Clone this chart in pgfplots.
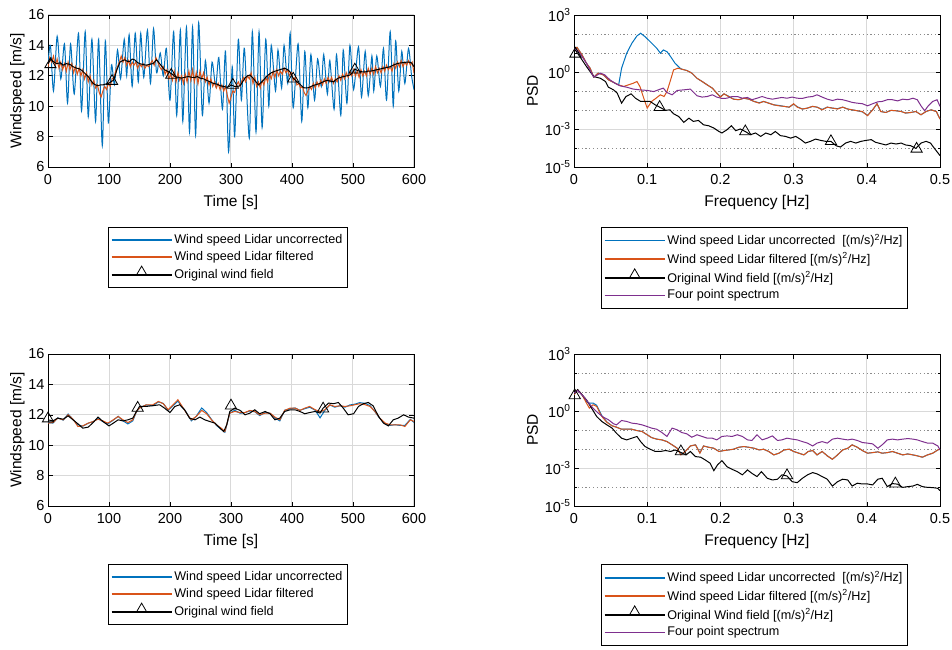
\documentclass[border=0pt]{standalone}
\usepackage{fontspec}
\setmainfont{Liberation Sans}
\usepackage{pgfplots}
\pgfplotsset{compat=1.18}
\usepackage{pgfplotstable}

\definecolor{mblue}{rgb}{0,0.447,0.741}
\definecolor{morange}{rgb}{0.85,0.325,0.098}
\definecolor{mpurple}{rgb}{0.494,0.184,0.556}

\pgfplotsset{
 mybase/.style={
  scale only axis, width=366pt, height=152pt,
  axis line style={line width=0.9pt, black},
  tick align=inside, tick pos=both,
  major tick length=4.5pt, minor tick length=2.5pt,
  every tick/.style={black, line width=0.6pt},
  major grid style={draw=black!15, line width=1pt},
  tick label style={font=\fontsize{14.5}{16}\selectfont},
  xticklabel style={yshift=-4pt},
  label style={font=\fontsize{15.5}{18}\selectfont},
  xlabel style={yshift=-4pt},
  /pgf/number format/assume math mode=true,
  every axis plot/.append style={line width=1pt},
  legend style={draw=black, line width=0.8pt, fill=white,
    font=\fontsize{12.6}{14.5}\selectfont,
    inner xsep=2.5pt, inner ysep=5pt, row sep=1.5pt,
    nodes={inner sep=2pt, text depth=0.22em},
    cells={anchor=west}, anchor=north west},
 },
 myts/.style={mybase, grid=major, xmin=0, xmax=600, ymin=6, ymax=16,
  xtick={0,100,200,300,400,500,600}, ytick={6,8,10,12,14,16},
  ylabel shift=-3pt,
  xlabel={Time [s]}, ylabel={Windspeed [m/s]}},
 mypsd/.style={mybase, xmin=0, xmax=0.5, ymin=1e-5, ymax=1e3,
  xtick={0,0.1,0.2,0.3,0.4,0.5},
  xticklabels={0,0.1,0.2,0.3,0.4,0.5},
  ytick={1e-5,1e-3,1,1e3},
  yticklabels={10\textsuperscript{-5},10\textsuperscript{-3},10\textsuperscript{0},10\textsuperscript{3}},
  minor ytick={1e-4,1e-2,1e-1,1e1,1e2},
  grid=both,
  minor grid style={draw=black!45, dash pattern=on 1.2pt off 2.6pt, line width=0.8pt},
  xlabel={Frequency [Hz]}, ylabel={PSD}},
 bl/.style={mblue, legend image code/.code={\draw[mblue, line width=1.4pt] (0pt,0pt) -- (60pt,0pt);}},
 or/.style={morange, legend image code/.code={\draw[morange, line width=1.4pt] (0pt,0pt) -- (60pt,0pt);}},
 pu/.style={mpurple, legend image code/.code={\draw[mpurple, line width=1.4pt] (0pt,0pt) -- (60pt,0pt);}},
 blk/.style={black, line width=1pt,
  legend image code/.code={\draw[black,line width=1.3pt] (0pt,0pt) -- (60pt,0pt);
    \draw[black,line width=0.8pt] plot[only marks, mark=triangle, mark size=6pt] coordinates {(30pt,3pt)};}},
 tri/.style={only marks, mark=triangle, mark size=6.5pt, black, line width=0.8pt, forget plot},
}

% ---------------- top-left time series ----------------
\pgfplotstableread{
t v
0 12.8
4 14.0
9 11.0
15 14.6
21 11.8
27 14.1
32 10.2
37 14.1
43 10.8
50 14.8
55 9.7
61 14.9
66 9.3
72 14.4
78 9.0
83 14.4
89 7.4
94 14.3
99 8.9
104 12.7
109 11.4
114 13.7
119 11.8
125 14.4
129 12.0
133 14.7
138 11.3
143 14.8
148 11.6
152 14.8
157 11.9
163 15.0
168 11.5
173 15.1
178 12.2
184 13.5
189 12.0
194 13.8
200 10.4
206 14.9
211 9.4
217 15.0
221 9.0
227 15.2
232 8.3
237 15.2
242 8.1
247 15.5
253 9.4
258 13.0
264 10.2
269 12.9
275 11.3
280 13.2
286 9.8
291 13.6
296 7.0
302 12.6
306 8.0
312 14.4
317 10.4
322 13.8
330 7.9
335 14.9
341 8.3
346 14.9
351 8.6
357 14.4
362 10.0
366 14.0
373 11.0
377 13.7
383 11.2
387 14.0
393 11.5
397 14.8
402 9.9
410 14.1
416 9.0
421 13.6
426 9.9
431 13.4
437 10.4
442 13.1
448 11.3
452 13.4
458 10.8
462 13.0
469 9.8
473 13.4
480 9.4
484 13.7
490 10.2
495 14.0
501 11.1
509 13.9
514 10.6
520 13.6
525 10.7
531 13.3
534 11.0
539 13.3
545 11.3
550 13.8
555 10.4
561 14.9
566 10.0
570 14.3
575 11.0
580 13.6
585 11.5
591 13.8
596 12.0
600 11.1
}\tlblue

\pgfplotstableread{
t v
0 12.6
3 13.2
6 12.9
9 13.3
12 12.7
15 13.1
18 12.5
21 12.9
24 12.4
27 12.8
30 12.3
33 12.9
36 12.4
39 12.8
42 12.2
45 12.6
48 12.1
51 12.5
54 12.0
57 12.4
60 11.8
63 12.2
66 11.6
69 12.0
72 11.4
75 11.7
78 11.2
81 11.4
84 10.9
87 10.6
90 11.0
93 11.3
96 11.1
99 11.5
102 11.3
105 11.8
108 11.9
111 12.3
114 12.6
117 12.9
120 13.3
123 12.9
126 13.2
129 12.7
132 13.0
135 12.6
138 12.9
141 12.7
144 12.9
147 12.5
150 12.8
153 12.6
156 12.8
159 12.5
162 12.7
165 12.6
168 12.8
171 13.0
174 12.7
177 13.2
180 12.9
183 12.6
186 12.4
189 12.6
192 12.1
195 12.4
198 11.8
201 12.1
204 11.7
207 12.3
210 11.6
213 12.2
216 11.7
219 12.0
222 11.5
225 12.1
228 11.6
231 12.3
234 11.7
237 12.4
240 11.6
243 12.2
246 11.5
249 12.3
252 11.8
255 12.2
258 11.6
261 11.9
264 11.4
267 11.8
270 11.3
273 11.6
276 11.2
279 11.5
282 11.1
285 11.4
288 11.0
291 11.3
294 10.7
297 10.2
300 10.6
303 11.0
306 10.9
309 11.4
312 11.6
315 11.3
318 11.7
321 11.9
324 11.6
327 12.0
330 11.8
333 12.2
336 11.5
339 11.9
342 11.3
345 11.6
348 11.2
351 11.7
354 11.4
357 11.9
360 11.6
363 12.1
366 11.8
369 12.3
372 11.9
375 12.4
378 12.0
381 12.3
384 12.1
387 12.5
390 12.2
393 12.4
396 12.0
399 12.2
402 11.7
405 11.9
408 11.4
411 11.5
414 11.2
417 11.3
420 10.9
423 10.7
426 11.0
429 11.3
432 11.1
435 11.5
438 11.2
441 11.6
444 11.3
447 11.7
450 11.4
453 11.8
456 11.5
459 11.9
462 11.6
465 11.9
468 11.5
471 11.8
474 11.6
477 12.0
480 11.7
483 12.1
486 11.8
489 12.2
492 11.9
495 12.3
498 12.0
501 12.4
504 12.0
507 12.3
510 11.9
513 12.4
516 12.0
519 12.3
522 12.0
525 12.5
528 12.1
531 12.5
534 12.1
537 12.6
540 12.2
543 12.5
546 12.2
549 12.6
552 12.3
555 12.7
558 12.4
561 12.6
564 12.3
567 12.8
570 12.5
573 12.9
576 12.6
579 13.0
582 12.6
585 12.9
588 12.7
591 13.0
594 12.7
597 12.9
600 12.2
}\tlorange

\pgfplotstableread{
t v
0 12.8
5 13.1
10 12.9
14 12.8
20 12.85
25 12.7
30 12.8
36 12.75
41 12.6
47 12.5
52 12.45
57 12.3
62 12.1
66 11.95
70 11.7
74 11.5
78 11.4
82 11.35
86 11.4
90 11.4
94 11.45
99 11.5
103 11.6
107 11.7
110 12.0
113 12.4
118 12.9
122 13.0
126 13.05
130 12.95
134 12.95
138 13.1
142 13.05
146 12.9
150 12.8
155 12.75
161 12.7
166 12.75
172 12.8
178 13.05
183 12.8
187 12.6
191 12.4
196 12.3
200 12.2
204 12.1
208 11.95
213 11.9
219 11.85
224 11.9
230 11.95
236 11.9
241 11.9
245 11.95
249 11.85
255 11.8
260 11.7
266 11.6
271 11.5
277 11.45
282 11.35
288 11.3
293 11.25
297 11.3
300 11.4
306 11.3
311 11.3
315 11.35
319 11.6
323 11.85
327 12.0
331 12.05
335 11.9
339 11.7
345 11.4
349 11.55
353 11.7
357 11.9
361 12.05
366 12.2
372 12.3
376 12.35
380 12.4
384 12.45
388 12.5
393 12.4
397 12.25
402 11.85
407 11.65
413 11.45
418 11.25
421 11.2
425 11.2
429 11.25
434 11.35
438 11.4
442 11.45
446 11.5
451 11.6
457 11.7
463 11.65
468 11.6
472 11.75
476 11.85
480 11.9
484 11.95
490 12.0
495 12.05
499 12.2
503 12.45
507 12.35
511 12.3
516 12.25
520 12.25
524 12.3
528 12.3
534 12.35
539 12.4
545 12.45
550 12.5
556 12.55
561 12.6
566 12.7
572 12.8
578 12.85
583 12.87
588 12.9
592 12.9
596 12.85
600 12.6
}\tlblack

% ---------------- bottom-left time series ----------------
\pgfplotstableread{
t v
0 11.5
8 11.45
16 11.8
25 11.65
33 12.05
41 11.7
49 11.35
57 11.25
66 11.45
74 11.55
82 11.75
90 11.55
98 11.4
107 11.65
115 11.9
123 11.6
131 11.4
139 11.6
145 12.2
150 12.45
161 12.65
172 12.6
181 12.85
189 12.75
197 12.3
205 12.6
213 12.9
220 12.5
227 12.15
235 11.6
243 11.9
252 12.45
260 12.15
268 11.7
276 11.3
284 11.05
290 10.85
298 12.1
306 12.3
315 12.1
323 12.15
331 12.25
339 12.2
347 11.95
356 12.15
364 12.1
372 11.8
380 11.6
388 12.3
397 12.4
405 12.45
413 12.3
421 12.4
429 12.5
438 12.3
446 11.8
454 12.3
462 12.65
470 12.5
479 12.6
487 12.5
495 12.65
503 12.7
511 12.8
520 12.75
528 12.6
536 12.2
544 11.75
553 11.4
561 11.3
569 11.35
577 11.3
585 11.3
594 11.7
600 11.5
}\blblue

\pgfplotstableread{
t v
0 11.45
8 11.49
16 11.78
25 11.67
33 12.0
41 11.71
49 11.23
57 11.27
66 11.45
74 11.56
82 11.71
90 11.6
98 11.45
107 11.67
115 11.89
123 11.67
131 11.49
139 11.67
145 12.22
150 12.44
161 12.66
172 12.66
181 12.88
189 12.73
197 12.33
205 12.66
213 12.99
220 12.55
227 12.11
235 11.67
243 11.89
252 12.29
260 12.07
268 11.67
276 11.34
284 11.12
290 10.9
298 12.11
306 12.22
315 12.15
323 12.15
331 12.29
339 12.22
347 12.0
356 12.11
364 12.11
372 11.85
380 11.67
388 12.29
397 12.44
405 12.44
413 12.29
421 12.44
429 12.55
438 12.33
446 12.22
454 12.33
462 12.66
470 12.55
479 12.59
487 12.55
495 12.59
503 12.66
511 12.73
520 12.66
528 12.55
536 12.22
544 11.78
553 11.45
561 11.34
569 11.34
577 11.34
585 11.23
594 11.67
600 11.56
}\blorange

\pgfplotstableread{
t v
0 11.67
8 11.6
16 11.78
25 11.71
33 11.93
41 11.67
49 11.41
57 11.12
66 11.19
74 11.49
82 11.85
90 11.56
100 11.27
107 11.45
115 11.67
123 11.6
131 11.67
139 11.78
145 12.22
150 12.55
161 12.55
172 12.6
183 12.66
191 12.44
200 12.15
208 12.55
216 12.66
224 12.33
232 11.78
241 11.67
249 11.85
257 11.67
265 11.56
274 11.45
282 11.12
288 10.9
293 11.34
298 12.22
306 12.44
315 12.29
323 12.0
331 12.11
339 12.33
347 12.07
356 12.22
364 12.07
372 11.67
380 11.78
388 12.22
397 12.33
405 12.33
413 12.22
421 12.07
429 12.15
438 12.22
446 12.11
451 12.44
460 12.77
468 12.73
476 12.81
484 12.44
492 12.0
501 12.07
509 12.55
517 12.73
525 12.81
533 12.59
542 11.89
550 11.45
558 11.27
566 11.67
574 11.78
583 12.0
591 11.85
600 11.78
}\blblack

% ---------------- top-right PSD (log10 values) ----------------
\pgfplotstableread{
f l
0.001 1.20
0.004 1.30
0.011 0.90
0.017 0.46
0.022 0.20
0.027 -0.27
0.033 -0.06
0.040 -0.15
0.047 -0.41
0.054 -0.55
0.061 -0.68
0.065 0.20
0.072 0.99
0.079 1.51
0.086 1.90
0.091 2.04
0.097 1.86
0.104 1.60
0.113 1.25
0.118 0.99
0.122 1.16
0.127 1.07
0.132 0.81
0.138 0.46
0.145 0.20
0.147 0.15
0.154 0.08
0.161 -0.06
0.168 -0.33
0.175 -0.50
0.182 -0.68
0.189 -0.85
0.195 -1.11
0.200 -1.30
0.205 -1.15
0.211 -1.27
0.218 -1.43
0.225 -1.46
0.232 -1.38
0.239 -1.43
0.246 -1.55
0.253 -1.62
0.259 -1.55
0.266 -1.64
0.273 -1.73
0.280 -1.76
0.287 -1.81
0.294 -1.85
0.300 -1.69
0.305 -1.83
0.312 -1.95
0.319 -1.90
0.326 -1.81
0.332 -1.85
0.339 -1.97
0.346 -1.85
0.353 -1.90
0.360 -1.93
0.367 -1.85
0.374 -1.95
0.380 -1.99
0.387 -2.04
0.394 -2.10
0.401 -2.28
0.408 -1.99
0.414 -1.67
0.419 -2.08
0.426 -2.13
0.433 -2.02
0.440 -2.04
0.447 -2.08
0.453 -2.16
0.460 -2.13
0.467 -2.08
0.474 -2.25
0.481 -2.08
0.488 -1.99
0.495 -2.08
0.500 -2.48
}\trblue

\pgfplotstableread{
f l
0.001 1.20
0.004 1.30
0.011 0.90
0.017 0.46
0.022 0.20
0.027 -0.27
0.033 -0.06
0.040 -0.15
0.047 -0.41
0.054 -0.55
0.061 -0.68
0.068 -0.76
0.074 -0.68
0.081 -0.59
0.086 -0.50
0.090 -0.76
0.096 -1.46
0.100 -1.90
0.106 -1.55
0.112 -1.38
0.118 -1.20
0.123 -1.29
0.127 -1.03
0.132 -0.41
0.136 0.11
0.142 0.20
0.147 0.15
0.154 0.08
0.161 -0.06
0.168 -0.33
0.175 -0.50
0.182 -0.68
0.189 -0.85
0.195 -1.11
0.200 -1.32
0.205 -1.15
0.211 -1.29
0.218 -1.43
0.225 -1.46
0.232 -1.38
0.239 -1.43
0.246 -1.55
0.253 -1.64
0.259 -1.55
0.266 -1.64
0.273 -1.73
0.280 -1.78
0.287 -1.81
0.294 -1.85
0.300 -1.67
0.305 -1.85
0.312 -1.95
0.319 -1.90
0.326 -1.81
0.332 -1.85
0.339 -1.99
0.346 -1.85
0.353 -1.90
0.360 -1.95
0.367 -1.85
0.374 -1.95
0.380 -1.99
0.387 -2.04
0.394 -2.08
0.401 -2.30
0.408 -1.99
0.414 -1.67
0.419 -2.08
0.426 -2.13
0.433 -2.02
0.440 -2.04
0.447 -2.08
0.453 -2.16
0.460 -2.13
0.467 -2.08
0.474 -2.25
0.481 -2.08
0.488 -1.99
0.495 -2.08
0.500 -2.48
}\trorange

\pgfplotstableread{
f l
0.001 1.20
0.008 0.81
0.017 0.29
0.027 -0.24
0.036 -0.33
0.043 -0.50
0.047 -0.80
0.054 -0.94
0.059 -1.11
0.065 -1.64
0.071 -1.29
0.078 -1.15
0.084 -1.38
0.091 -1.55
0.097 -1.55
0.104 -1.55
0.111 -1.73
0.117 -1.85
0.125 -2.02
0.131 -1.99
0.136 -2.20
0.143 -2.34
0.150 -2.65
0.157 -2.43
0.163 -2.60
0.170 -2.55
0.177 -2.78
0.184 -2.83
0.191 -2.95
0.198 -3.13
0.202 -3.21
0.209 -3.04
0.215 -2.83
0.221 -3.09
0.227 -3.00
0.234 -3.13
0.241 -3.30
0.248 -3.21
0.255 -3.39
0.262 -3.21
0.269 -3.30
0.275 -3.13
0.282 -3.35
0.289 -3.39
0.296 -3.48
0.303 -3.39
0.310 -3.56
0.316 -3.74
0.323 -3.65
0.330 -3.53
0.337 -3.60
0.344 -3.65
0.351 -3.65
0.358 -3.88
0.364 -3.95
0.371 -3.74
0.378 -3.65
0.385 -3.74
0.392 -3.65
0.399 -3.60
0.406 -3.56
0.412 -3.70
0.419 -3.77
0.426 -3.84
0.433 -3.74
0.440 -3.79
0.447 -3.74
0.453 -3.84
0.460 -3.88
0.467 -4.02
0.474 -3.74
0.481 -3.65
0.487 -3.74
0.492 -4.00
0.500 -4.40
}\trblack

\pgfplotstableread{
f l
0.001 1.25
0.008 0.99
0.017 0.46
0.027 -0.27
0.036 -0.06
0.042 -0.15
0.049 -0.41
0.056 -0.59
0.063 -0.73
0.072 -0.80
0.081 -0.90
0.090 -0.94
0.100 -0.97
0.109 -1.03
0.118 -0.90
0.122 -0.85
0.127 -1.08
0.134 -1.20
0.141 -0.97
0.150 -0.94
0.159 -0.90
0.168 -1.25
0.175 -1.32
0.182 -1.29
0.189 -1.20
0.195 -1.32
0.202 -1.39
0.209 -1.38
0.216 -1.29
0.223 -1.29
0.230 -1.38
0.237 -1.34
0.243 -1.46
0.250 -1.38
0.257 -1.29
0.264 -1.38
0.271 -1.43
0.278 -1.38
0.284 -1.34
0.291 -1.38
0.298 -1.32
0.305 -1.38
0.312 -1.39
0.319 -1.32
0.326 -1.29
0.332 -1.20
0.339 -1.32
0.346 -1.43
0.353 -1.50
0.360 -1.43
0.367 -1.46
0.374 -1.53
0.380 -1.60
0.387 -1.64
0.394 -1.67
0.401 -1.78
0.408 -1.67
0.415 -1.57
0.421 -1.55
0.428 -1.46
0.435 -1.46
0.442 -1.52
0.449 -1.43
0.456 -1.46
0.463 -1.38
0.469 -1.46
0.474 -1.78
0.479 -2.04
0.484 -1.78
0.490 -1.55
0.496 -1.46
0.500 -1.81
}\trpurple

% ---------------- bottom-right PSD (log10 values) ----------------
\pgfplotstableread{
f l
0.000 0.85
0.005 1.12
0.011 0.85
0.017 0.50
0.021 0.42
0.026 0.42
0.031 0.30
0.038 -0.25
0.045 -0.58
0.052 -0.78
0.058 -0.85
0.065 -0.96
0.072 -0.96
0.079 -0.96
0.086 -1.03
0.093 -1.08
0.100 -1.25
0.106 -1.40
0.113 -1.48
0.120 -1.52
0.127 -1.61
0.134 -1.78
0.141 -1.96
0.146 -2.28
0.152 -2.13
0.159 -1.84
0.166 -1.78
0.172 -2.20
0.177 -1.84
0.184 -1.91
0.191 -1.96
0.198 -2.13
0.205 -2.08
0.211 -2.05
0.218 -2.01
0.225 -1.91
0.232 -1.87
0.239 -1.91
0.246 -1.96
0.253 -2.05
0.259 -2.01
0.266 -2.13
0.273 -2.31
0.280 -2.22
0.287 -2.05
0.294 -2.01
0.300 -2.13
0.307 -2.22
0.314 -2.31
0.320 -2.13
0.326 -2.08
0.332 -2.31
0.339 -2.13
0.346 -2.36
0.353 -2.54
0.360 -2.31
0.367 -2.05
0.374 -1.96
0.380 -1.78
0.387 -1.91
0.394 -2.08
0.401 -2.22
0.408 -2.19
0.415 -2.15
0.421 -2.22
0.428 -2.19
0.435 -2.13
0.442 -2.22
0.449 -2.31
0.456 -2.26
0.463 -2.31
0.469 -2.36
0.476 -2.43
0.483 -2.31
0.490 -2.22
0.497 -2.05
0.500 -2.01
}\brblue

\pgfplotstableread{
f l
0.000 0.85
0.005 1.12
0.011 0.85
0.017 0.42
0.021 0.15
0.026 0.33
0.031 0.24
0.038 -0.29
0.045 -0.60
0.052 -0.78
0.058 -0.85
0.065 -0.96
0.072 -0.96
0.079 -0.96
0.086 -1.03
0.093 -1.08
0.100 -1.25
0.106 -1.40
0.113 -1.48
0.120 -1.52
0.127 -1.61
0.134 -1.78
0.141 -1.96
0.146 -2.31
0.152 -2.13
0.159 -1.84
0.166 -1.78
0.172 -2.22
0.177 -1.84
0.184 -1.91
0.191 -1.96
0.198 -2.13
0.205 -2.08
0.211 -2.05
0.218 -2.01
0.225 -1.91
0.232 -1.87
0.239 -1.91
0.246 -1.96
0.253 -2.05
0.259 -2.01
0.266 -2.13
0.273 -2.31
0.280 -2.22
0.287 -2.05
0.294 -2.01
0.300 -2.13
0.307 -2.22
0.314 -2.31
0.320 -2.13
0.326 -2.08
0.332 -2.31
0.339 -2.13
0.346 -2.36
0.353 -2.54
0.360 -2.31
0.367 -2.05
0.374 -1.96
0.380 -1.78
0.387 -1.91
0.394 -2.08
0.401 -2.22
0.408 -2.19
0.415 -2.15
0.421 -2.22
0.428 -2.19
0.435 -2.13
0.442 -2.22
0.449 -2.31
0.456 -2.26
0.463 -2.31
0.469 -2.36
0.476 -2.43
0.483 -2.31
0.490 -2.22
0.497 -2.05
0.500 -2.01
}\brorange

\pgfplotstableread{
f l
0.000 0.91
0.005 1.12
0.011 0.85
0.017 0.59
0.024 0.15
0.031 -0.29
0.038 -0.55
0.045 -0.73
0.052 -0.90
0.058 -1.17
0.065 -1.43
0.072 -1.52
0.079 -1.43
0.086 -1.34
0.091 -1.61
0.097 -1.87
0.104 -2.01
0.111 -2.13
0.118 -2.13
0.125 -2.08
0.132 -2.13
0.138 -2.05
0.146 -2.18
0.153 -2.31
0.159 -2.13
0.166 -2.40
0.173 -2.43
0.179 -2.57
0.186 -2.75
0.191 -3.14
0.196 -2.84
0.202 -2.61
0.209 -2.93
0.216 -3.07
0.223 -3.19
0.230 -3.36
0.237 -3.10
0.243 -3.28
0.250 -3.45
0.256 -3.19
0.264 -3.54
0.271 -3.63
0.278 -3.59
0.284 -3.36
0.291 -3.42
0.298 -3.72
0.305 -3.77
0.312 -3.54
0.319 -3.36
0.326 -3.24
0.332 -3.31
0.339 -3.45
0.346 -3.59
0.353 -3.95
0.360 -3.72
0.367 -3.59
0.374 -3.63
0.380 -3.95
0.387 -3.80
0.394 -3.84
0.401 -3.84
0.408 -3.89
0.415 -3.59
0.421 -3.54
0.428 -3.98
0.435 -3.82
0.442 -3.85
0.449 -4.02
0.456 -3.98
0.463 -3.95
0.469 -3.86
0.476 -3.98
0.483 -4.02
0.490 -4.03
0.497 -4.07
0.500 -4.19
}\brblack

\pgfplotstableread{
f l
0.000 0.94
0.005 1.08
0.013 0.77
0.020 0.42
0.026 0.15
0.033 -0.11
0.040 -0.32
0.047 -0.46
0.054 -0.67
0.058 -0.73
0.065 -0.50
0.072 -0.55
0.079 -0.64
0.086 -0.67
0.093 -0.73
0.100 -0.82
0.106 -0.90
0.113 -0.96
0.120 -1.13
0.127 -1.34
0.134 -0.90
0.141 -0.99
0.147 -1.13
0.154 -1.20
0.161 -1.38
0.168 -1.25
0.175 -1.34
0.182 -1.43
0.189 -1.43
0.195 -1.52
0.202 -1.34
0.209 -1.31
0.216 -1.34
0.223 -1.25
0.230 -1.34
0.237 -1.52
0.243 -1.55
0.250 -1.25
0.257 -1.52
0.264 -1.43
0.271 -1.31
0.278 -1.55
0.284 -1.52
0.291 -1.43
0.298 -1.48
0.305 -1.52
0.312 -1.61
0.319 -1.69
0.326 -1.84
0.332 -1.69
0.339 -1.61
0.346 -1.69
0.353 -1.48
0.360 -1.43
0.367 -1.48
0.374 -1.52
0.380 -1.48
0.387 -1.55
0.394 -1.66
0.401 -1.69
0.408 -1.73
0.415 -1.96
0.421 -1.78
0.428 -1.52
0.435 -1.48
0.442 -1.52
0.449 -1.48
0.456 -1.45
0.463 -1.48
0.469 -1.52
0.476 -1.61
0.483 -1.69
0.490 -1.69
0.497 -1.84
0.500 -2.05
}\brpurple

\begin{document}
\begin{tikzpicture}
\path[use as bounding box] (0,0) rectangle (952pt,649pt);

% ===== top-left =====
\begin{axis}[myts, at={(48pt,634pt)}, anchor=north west,
  legend style={at={(axis description cs:0.164,-0.395)}}]
\addplot[bl, smooth, tension=0.45] table[x=t,y=v] {\tlblue};
\addlegendentry{Wind speed Lidar uncorrected}
\addplot[or] table[x=t,y=v] {\tlorange};
\addlegendentry{Wind speed Lidar filtered}
\addplot[blk] table[x=t,y=v] {\tlblack};
\addlegendentry{Original wind field}
\addplot[tri] coordinates {(4,12.75) (105,11.65) (202,12.05) (303,11.4) (402,11.8) (503,12.4)};
\end{axis}

% ===== top-right =====
\begin{axis}[ymode=log, mypsd, at={(574pt,634pt)}, anchor=north west,
  legend style={at={(axis description cs:0.074,-0.395)}}]
\addplot[bl] table[x=f,y expr={10^(\thisrow{l})}] {\trblue};
\addlegendentry{Wind speed Lidar uncorrected\ \ [(m/s)\textsuperscript{2}/Hz]}
\addplot[or] table[x=f,y expr={10^(\thisrow{l})}] {\trorange};
\addlegendentry{Wind speed Lidar filtered [(m/s)\textsuperscript{2}/Hz]}
\addplot[blk] table[x=f,y expr={10^(\thisrow{l})}] {\trblack};
\addlegendentry{Original Wind field [(m/s)\textsuperscript{2}/Hz]}
\addplot[pu] table[x=f,y expr={10^(\thisrow{l})}] {\trpurple};
\addlegendentry{Four point spectrum}
\addplot[tri] coordinates {(0.002,9) (0.117,0.0141) (0.234,7.4e-4) (0.351,2.24e-4) (0.468,9.0e-5)};
\end{axis}

% ===== bottom-left =====
\begin{axis}[myts, at={(48pt,295pt)}, anchor=north west,
  legend style={at={(axis description cs:0.164,-0.382)}}]
\addplot[bl] table[x=t,y=v] {\blblue};
\addlegendentry{Wind speed Lidar uncorrected}
\addplot[or] table[x=t,y=v] {\blorange};
\addlegendentry{Wind speed Lidar filtered}
\addplot[blk] table[x=t,y=v] {\blblack};
\addlegendentry{Original wind field}
\addplot[tri] coordinates {(0,11.75) (147,12.45) (300,12.6) (451,12.4)};
\end{axis}

% ===== bottom-right =====
\begin{axis}[ymode=log, mypsd, at={(574pt,295pt)}, anchor=north west,
  legend style={at={(axis description cs:0.074,-0.382)}}]
\addplot[bl] table[x=f,y expr={10^(\thisrow{l})}] {\brblue};
\addlegendentry{Wind speed Lidar uncorrected\ \ [(m/s)\textsuperscript{2}/Hz]}
\addplot[or] table[x=f,y expr={10^(\thisrow{l})}] {\brorange};
\addlegendentry{Wind speed Lidar filtered [(m/s)\textsuperscript{2}/Hz]}
\addplot[blk] table[x=f,y expr={10^(\thisrow{l})}] {\brblack};
\addlegendentry{Original Wind field [(m/s)\textsuperscript{2}/Hz]}
\addplot[pu] table[x=f,y expr={10^(\thisrow{l})}] {\brpurple};
\addlegendentry{Four point spectrum}
\addplot[tri] coordinates {(0.001,6.6) (0.146,7.4e-3) (0.291,4.07e-4) (0.439,1.5e-4)};
\end{axis}
\end{tikzpicture}
\end{document}
